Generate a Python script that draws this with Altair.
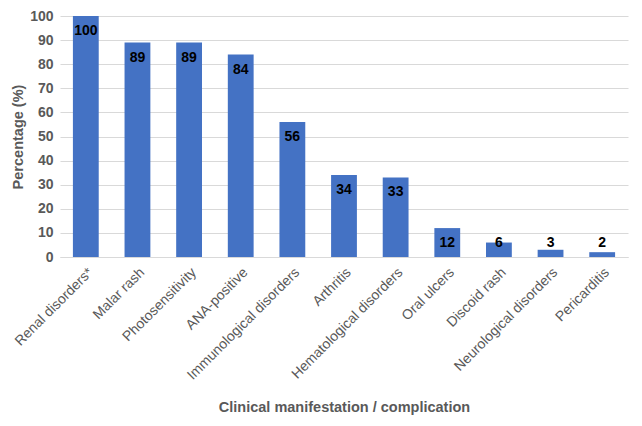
import altair as alt
import pandas as pd

categories = ["Renal disorders*", "Malar rash", "Photosensitivity", "ANA-positive",
              "Immunological disorders", "Arthritis", "Hematological disorders",
              "Oral ulcers", "Discoid rash", "Neurological disorders", "Pericarditis"]
values = [100, 89, 89, 84, 56, 34, 33, 12, 6, 3, 2]

df = pd.DataFrame({"cat": categories, "val": values})

xscale = alt.Scale(paddingInner=0.5, paddingOuter=0.25)
xaxis = alt.Axis(title="Clinical manifestation / complication", labelAngle=-45,
                 labelFont="Liberation Sans", labelFontSize=14, labelColor="#595959",
                 titleFont="Liberation Sans", titleFontSize=14.5, titleFontWeight="bold",
                 titleColor="#595959", ticks=False, domainColor="#D9D9D9",
                 labelPadding=8, titlePadding=18, labelOverlap=False)
yscale = alt.Scale(domain=[0, 100])
yaxis = alt.Axis(title="Percentage (%)", values=list(range(0, 101, 10)),
                 labelFont="Liberation Sans", labelFontSize=14, labelFontWeight="bold",
                 labelColor="#595959", titleFont="Liberation Sans", titleFontSize=14.5,
                 titleFontWeight="bold", titleColor="#595959", domain=False, ticks=False,
                 gridColor="#D9D9D9", labelPadding=7, titlePadding=4, labelOverlap=False)

bars = alt.Chart(df).mark_bar(color="#4472C4").encode(
    x=alt.X("cat:N", sort=categories, scale=xscale, axis=xaxis),
    y=alt.Y("val:Q", scale=yscale, axis=yaxis))
text = alt.Chart(df).transform_calculate(
    lpos="max(datum.val, 12)"
).mark_text(baseline="middle", dy=15, font="Liberation Sans",
            fontSize=14, fontWeight="bold", color="black").encode(
    x=alt.X("cat:N", sort=categories, scale=xscale, axis=xaxis),
    y=alt.Y("lpos:Q", scale=yscale, axis=yaxis), text="val:Q")

chart = (bars + text).properties(
    width=568, height=241,
    autosize=alt.AutoSizeParams(type="none"),
    padding={"left": 52, "top": 8, "right": 6, "bottom": 161},
).configure_view(stroke=None)

chart.save("out.html", embed_options={"renderer": "svg", "actions": False})
